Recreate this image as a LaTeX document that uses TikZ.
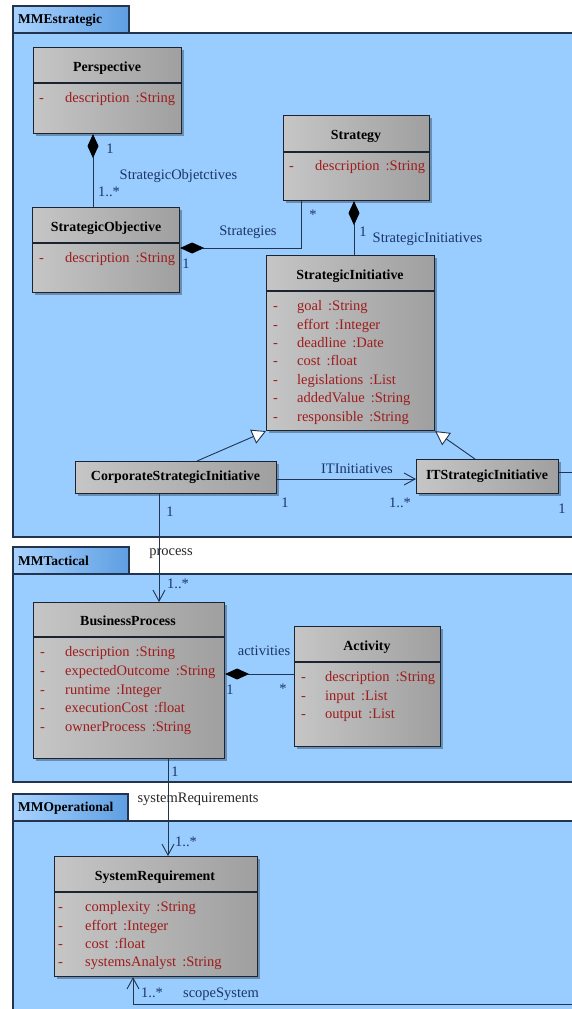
\documentclass[tikz,border=0pt]{standalone}
\usepackage{fontspec}
\setmainfont{Liberation Serif}
\usetikzlibrary{arrows.meta,shadows}

\definecolor{pkgfill}{HTML}{99CCFF}
\definecolor{pkgline}{HTML}{22344E}
\definecolor{tableft}{HTML}{A9D3FF}
\definecolor{tabright}{HTML}{5E9EE2}
\definecolor{clsline}{HTML}{1B2430}
\definecolor{attrred}{HTML}{9E1C1C}
\definecolor{rolebl}{HTML}{1C3566}

\tikzset{
  pkg/.style={draw=pkgline, line width=1.2pt, fill=pkgfill},
  pkgtab/.style={draw=pkgline, line width=1.2pt, left color=tableft, right color=tabright},
  pkgname/.style={anchor=west, inner sep=0pt, font=\fontsize{13.5}{15}\selectfont\bfseries},
  cls/.style={draw=clsline, line width=1.1pt, anchor=north west, inner sep=0pt,
    left color=gray!45, middle color=gray!22, right color=gray!75,
    drop shadow={shadow xshift=2pt, shadow yshift=-2pt, opacity=.3, fill=black}},
  clsdiv/.style={draw=clsline, line width=1.1pt},
  ctitle/.style={inner sep=0pt, font=\fontsize{13.9}{15}\selectfont\bfseries},
  attr/.style={anchor=west, inner sep=0pt, text=attrred, text height=9.5pt, text depth=0pt,
    font=\fontsize{14.5}{16}\selectfont},
  role/.style={inner sep=0pt, text=rolebl, text height=9.5pt, text depth=0pt,
    font=\fontsize{14.5}{16}\selectfont},
  plain/.style={role, text=black!85},
  link/.style={draw=pkgline, line width=0.9pt},
  comp/.style={link, {Diamond[length=24pt,width=11pt,fill=black,color=black]}-},
  navig/.style={link, -{Straight Barb[length=11pt,width=12pt]}},
  gen/.style={link, -{Triangle[length=14pt,width=15pt,fill=white]}},
}

\begin{document}
\begin{tikzpicture}[x=1pt,y=-1pt]
  \useasboundingbox (0,0) rectangle (572,1009);
  \clip (0,0) rectangle (572,1009);

  % packages
  \draw[pkg] (13,33) rectangle (590,537);
  \draw[pkgtab] (13,6) rectangle (129,33);
  \node[pkgname] (pkgstr) at (18,20) {MMEstrategic};
  \draw[pkg] (13,574) rectangle (590,782);
  \draw[pkgtab] (13,547) rectangle (129,574);
  \node[pkgname] (pkgtac) at (18,561) {MMTactical};
  \draw[pkg] (13,821) rectangle (590,1030);
  \draw[pkgtab] (13,794) rectangle (128,821);
  \node[pkgname] (pkgope) at (18,808) {MMOperational};

  % classes
  \node[cls, minimum width=148pt, minimum height=86pt] (persp) at (33,47) {};
  \draw[clsdiv] (persp.west |- 0,83) -- (persp.east |- 0,83);
  \node[ctitle] (persp-t) at (107,68) {Perspective};
  \node[attr] (persp-d) at (39,98) {-};
  \node[attr] (persp-a) at (65,98) {description \,:String};

  \node[cls, minimum width=147pt, minimum height=85pt] (strobj) at (32,207) {};
  \draw[clsdiv] (strobj.west |- 0,243) -- (strobj.east |- 0,243);
  \node[ctitle] (strobj-t) at (106,228) {StrategicObjective};
  \node[attr] (strobj-d) at (39,258) {-};
  \node[attr] (strobj-a) at (65,258) {description \,:String};

  \node[cls, minimum width=146pt, minimum height=85pt] (strat) at (283,115) {};
  \draw[clsdiv] (strat.west |- 0,152) -- (strat.east |- 0,152);
  \node[ctitle] (strat-t) at (356,136) {Strategy};
  \node[attr] (strat-d) at (289,166) {-};
  \node[attr] (strat-a) at (315,166) {description \,:String};

  \node[cls, minimum width=168pt, minimum height=175pt] (sinit) at (266,255) {};
  \draw[clsdiv] (sinit.west |- 0,291) -- (sinit.east |- 0,291);
  \node[ctitle] (sinit-t) at (350,276) {StrategicInitiative};
  \foreach \t [count=\i from 0] in {goal \,:String, effort \,:Integer, deadline \,:Date,
      cost \,:float, legislations \,:List, addedValue \,:String, responsible \,:String}
  {
    \node[attr] (sinit-d\i) at (273,306+18.4*\i) {-};
    \node[attr] (sinit-a\i) at (297,306+18.4*\i) {\t};
  }

  \node[cls, minimum width=201pt, minimum height=32pt] (corp) at (75,461) {};
  \node[ctitle] (corp-t) at (175.5,477) {CorporateStrategicInitiative};

  \node[cls, minimum width=142pt, minimum height=34pt] (itsi) at (416,459) {};
  \node[ctitle] (itsi-t) at (487,476) {ITStrategicInitiative};

  \node[cls, minimum width=191pt, minimum height=156pt] (bproc) at (33,602) {};
  \draw[clsdiv] (bproc.west |- 0,637) -- (bproc.east |- 0,637);
  \node[ctitle] (bproc-t) at (128,621) {BusinessProcess};
  \foreach \t [count=\i from 0] in {description \,:String, expectedOutcome \,:String,
      runtime \,:Integer, executionCost \,:float, ownerProcess \,:String}
  {
    \node[attr] (bproc-d\i) at (40,652+18.7*\i) {-};
    \node[attr] (bproc-a\i) at (65,652+18.7*\i) {\t};
  }

  \node[cls, minimum width=146pt, minimum height=120pt] (activ) at (294,626) {};
  \draw[clsdiv] (activ.west |- 0,662) -- (activ.east |- 0,662);
  \node[ctitle] (activ-t) at (367,647) {Activity};
  \foreach \t [count=\i from 0] in {description \,:String, input \,:List, output \,:List}
  {
    \node[attr] (activ-d\i) at (301,677+18.5*\i) {-};
    \node[attr] (activ-a\i) at (325,677+18.5*\i) {\t};
  }

  \node[cls, minimum width=203pt, minimum height=120pt] (sysreq) at (54,856) {};
  \draw[clsdiv] (sysreq.west |- 0,892) -- (sysreq.east |- 0,892);
  \node[ctitle] (sysreq-t) at (155,877) {SystemRequirement};
  \foreach \t [count=\i from 0] in {complexity \,:String, effort \,:Integer,
      cost \,:float, systemsAnalyst \,:String}
  {
    \node[attr] (sysreq-d\i) at (58,907+18.4*\i) {-};
    \node[attr] (sysreq-a\i) at (85,907+18.4*\i) {\t};
  }

  % connectors
  \coordinate (offR) at (590,472);
  \coordinate (offB) at (590,1004);
  \draw[comp] (persp.south -| 93,0) -- (strobj.north -| 93,0);
  \draw[comp] (strobj.east |- 0,248) -| (strat.south -| 301,0);
  \draw[comp] (strat.south -| 354,0) -- (sinit.north -| 354,0);
  \draw[gen] (corp.north -| 197,0) -- (sinit.south west);
  \draw[gen] (itsi.north -| 475,0) -- (sinit.south east);
  \draw[navig] (corp.east |- 0,479) -- (itsi.west |- 0,479);
  \draw[link] (itsi.east |- 0,472) -- (offR);
  \draw[navig] (corp.south -| 159,0) -- (bproc.north -| 159,0);
  \draw[comp] (bproc.east |- 0,674) -- (activ.west |- 0,674);
  \draw[navig] (bproc.south -| 168,0) -- (sysreq.north -| 168,0);
  \draw[navig] (offB) -| (sysreq.south -| 133,0);

  % labels
  \node[role] (l1) at (110,149) {1};
  \node[role] (l2) at (178.5,175) {StrategicObjetctives};
  \node[role] (l3) at (109,192) {1..*};
  \node[role] (l4) at (186,264) {1};
  \node[role] (l5) at (248,231) {Strategies};
  \node[role] (l6) at (313,215) {*};
  \node[role] (l7) at (363,232) {1};
  \node[role] (l8) at (427.5,238) {StrategicInitiatives};
  \node[role] (l9) at (357,469) {ITInitiatives};
  \node[role] (l10) at (285,503) {1};
  \node[role] (l11) at (400,503) {1..*};
  \node[role] (l12) at (562,509) {1};
  \node[role] (l13) at (170,512) {1};
  \node[plain] (l14) at (171,551) {process};
  \node[role] (l15) at (178,584) {1..*};
  \node[role] (l16) at (264,651) {activities};
  \node[role] (l17) at (230,690) {1};
  \node[role] (l18) at (283,689) {*};
  \node[role] (l19) at (175,772) {1};
  \node[plain] (l20) at (198,798) {systemRequirements};
  \node[role] (l21) at (186,842) {1..*};
  \node[role] (l22) at (152,993) {1..*};
  \node[role] (l23) at (221,993) {scopeSystem};
\end{tikzpicture}
\end{document}
